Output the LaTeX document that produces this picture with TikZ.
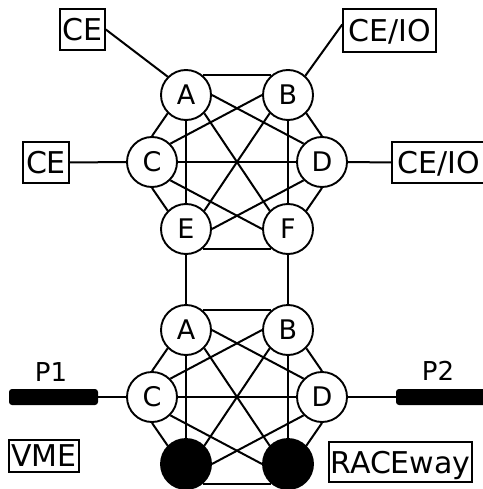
\documentclass[tikz,border=0pt]{standalone}
\usepackage{fontspec}
\setmainfont{DejaVu Sans}
\usetikzlibrary{calc}
\begin{document}
\begin{tikzpicture}[x=1pt,y=-1pt,
  vtx/.style={circle,draw,line width=1.9pt,fill=white,minimum size=50pt,inner sep=0pt,font=\fontsize{27}{27}\selectfont},
  dark/.style={vtx,fill=black},
  lbl/.style={draw,line width=1.6pt,inner sep=0pt,text depth=0pt,font=\fontsize{30}{30}\selectfont},
  link/.style={line width=2pt},
  thinlink/.style={line width=1.4pt},
  bar/.style={fill=black,rounded corners=3pt,inner sep=0pt,minimum height=16pt},
  plabel/.style={font=\fontsize{26}{26}\selectfont,inner sep=0pt,text depth=0pt}]
\useasboundingbox (0,0) rectangle (482,489);

% top cluster
\node[vtx] (tA) at (186,95) {A};
\node[vtx] (tB) at (288,95) {B};
\node[vtx] (tC) at (152,162) {C};
\node[vtx] (tD) at (322,162) {D};
\node[vtx] (tE) at (186,229) {E};
\node[vtx] (tF) at (288,229) {F};

% bottom cluster
\node[vtx] (bA) at (186,330) {A};
\node[vtx] (bB) at (288,330) {B};
\node[vtx] (bC) at (152,397) {C};
\node[vtx] (bD) at (322,397) {D};
\node[dark] (bE) at (186,464) {};
\node[dark] (bF) at (288,464) {};

% complete graph links in each cluster
\foreach \p in {t,b}{
  \draw[link] (\p A.50) -- (\p B.130);
  \draw[link] (\p A.225) -- (\p C.90);
  \draw[link] (\p A.0) -- (\p D.135);
  \draw[link] (\p A.270) -- (\p E.90);
  \draw[link] (\p A.-45) -- (\p F.135);
  \draw[link] (\p B.180) -- (\p C.45);
  \draw[link] (\p B.-45) -- (\p D.90);
  \draw[link] (\p B.-135) -- (\p E.45);
  \draw[link] (\p B.270) -- (\p F.90);
  \draw[link] (\p C.0) -- (\p D.180);
  \draw[link] (\p C.270) -- (\p E.135);
  \draw[link] (\p C.-45) -- (\p F.180);
  \draw[link] (\p D.-135) -- (\p E.0);
  \draw[link] (\p D.270) -- (\p F.45);
  \draw[link] (\p E.-50) -- (\p F.-130);
}

% links between clusters
\draw[link] (tE.south) -- (bA.north);
\draw[link] (tF.south) -- (bB.north);

% label boxes
\node[lbl,minimum width=45pt,minimum height=41pt] (ce1) at (82.5,29.5) {CE};
\node[lbl,minimum width=93pt,minimum height=43pt] (ceio1) at (389.5,30.5) {CE/IO};
\node[lbl,minimum width=46pt,minimum height=41pt] (ce2) at (46,162.5) {CE};
\node[lbl,minimum width=93pt,minimum height=41pt] (ceio2) at (438.5,162.5) {CE/IO};
\node[lbl,minimum width=70pt,minimum height=32pt] (vme) at (44,456) {VME};
\node[lbl,minimum width=143pt,minimum height=40pt] (race) at (400.5,462) {RACEway};

\draw[link] (ce1.east) -- (tA.135);
\draw[link] ($(ceio1.west)+(0,-6)$) -- (tB.48);
\draw[link] (ce2.east) -- (tC.west);
\draw[link] (tD.east) -- (ceio2.west);

% buses
\node[bar,minimum width=89pt] (bar1) at (53.5,397) {};
\node[bar,minimum width=104pt] (bar2) at (448,397) {};
\node[plabel] (p1) at (51,372) {P1};
\node[plabel] (p2) at (438,371) {P2};
\draw[thinlink] (bar1.east) -- (bC.west);
\draw[thinlink] (bD.east) -- (bar2.west);
\end{tikzpicture}
\end{document}
